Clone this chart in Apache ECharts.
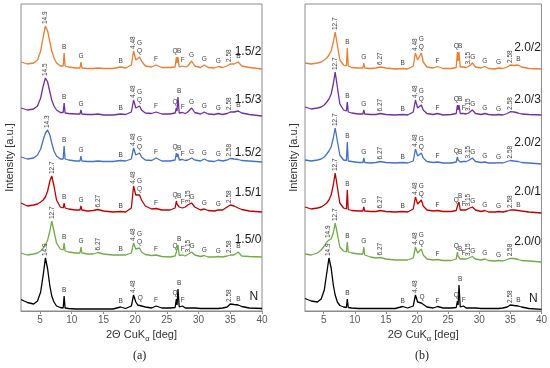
<!DOCTYPE html>
<html><head><meta charset="utf-8">
<script src="https://cdn.jsdelivr.net/npm/echarts@6/dist/echarts.min.js"></script>
<style>html,body{margin:0;padding:0;background:#fff}#c{width:550px;height:368px}</style>
</head><body><div id="c"></div>
<script>
// 2-theta grid (deg)
const twoTheta = [2, 3, 4, 4.6, 5.1, 5.5, 5.85, 6.2, 6.55, 6.85,
  7.2, 7.6, 8.2, 8.65, 8.8, 8.95, 9.5, 10.6, 11.3, 11.45,
  11.6, 12.5, 13.4, 14.1, 15, 16.5, 17.7, 18.5, 19.4, 19.75,
  20.1, 20.4, 20.7, 21.0, 21.6, 22.6, 23.3, 24.2, 25.5, 26.3,
  26.5, 26.6, 26.75, 26.95, 27.45, 27.9, 28.3, 28.9, 29.4, 30.3,
  30.9, 31.5, 32.5, 33.1, 33.8, 34.5, 35.0, 35.6, 36.25, 36.8,
  38, 40];
const xTicks = [5, 10, 15, 20, 25, 30, 35, 40];

// Panel (a): 1.5/2, 1.5/3, 1.5/2, 1.5/1, 1.5/0, N
const namesA = ['1.5/2', '1.5/3', '1.5/2', '1.5/1', '1.5/0', 'N'];
const offsetsA = [242, 196, 149, 98, 54, 0];
const orangeA = [7,5,6,9,18,32,43,38,27,18, 11,6,3,3,16,3,2,1,1,7, 1,0.5,0.5,1,0.5,0.5,2,1,4,18, 9,9,12,8,3,2,4,1.5,1.5,2, 12,6,12,2,3,2,3,8,3,1.5, 4,1.5,1,2.5,1.5,3,5,5,7,3, 1.5,0];
const purpleA = [7,5,6,9,17,29,37,33,23,15, 9,5,2.5,2.5,12,2,1.5,1,1,5, 1,0.5,0.5,1,0,0,1,0.5,3,15, 7,6,9,5,2,1.5,3,1,1,2, 7,4,18,2,2.5,1.5,3,7,2.5,1, 3,1,0.5,1.5,0.5,1.5,3,3,4,2, 0.5,-1];
const blueA = [5,3,4,7,13,22,29,32,27,19, 11,6,3,3,16,3,2,1,1,6, 1,0.5,0.5,1,0.5,0.5,1.5,1,3,14, 7,6,9,5,2,1.5,4,1,1,2, 9,5,8,2,2.5,1.5,2,4,2,1, 3,1,0.5,2,1,2,3.5,3,2.5,1.5, 1,0];
const redA = [10,7,8,9,11,13,16,22,32,37, 27,13,6,5,10,5,4,3,3,7, 3,2,2.5,3.5,2,1,1.5,1,5,27, 18,16,18,13,7,4,4.5,3,3,5, 12,9,11,6,5,6,8,10,6,3, 4,2.5,2,3,3,6,8,7,5,3.5, 2,1];
const greenA = [4,2,3,4,6,9,12,17,26,36, 26,14,8,7,14,6,5,4,4,10, 4,3,3,4.5,3,2,2,2,4,14, 8,7,9,5,2.5,1.5,2,0.5,0,1, 5,3,12,1.5,2,1,2.5,5,2,0.5, 1.5,0,0,0.5,0,1,2,2,5,1, 0.5,0];
const blackA = [11.5,8.5,7,10,19,36,53,42,25,15, 9,5,3.5,3,15,3,2.5,2,2,2, 2,2,2,2,2,2,4,2.5,5,16, 9,6,7,5,4,3,5,3,3,3.5, 12,6,22,4,5,3,3,3,3,2.5, 2.5,2.5,2.5,2.5,3,4,7,6.5,6,4.5, 3,2.5];

// Panel (b): 2.0/2, 2.0/3, 2.0/2, 2.0/1, 2.0/0, N
const namesB = ['2.0/2', '2.0/3', '2.0/2', '2.0/1', '2.0/0', 'N'];
const offsetsB = [242, 196, 148, 99, 50, 0];
const orangeB = [6,5,6,7,9,11,14,18,27,37, 24,9,4,3,21,3,1.5,1,1,6, 1,0.5,1,2,1,0,0.5,0,3,16, 9,7,16,7,2,1,2.5,0.5,0.5,1.5, 17,8,17,2,2,1.5,2.5,6,2,1, 2.5,0.5,0,1,0.5,2,4,3.5,4,2, 0.5,0];
const purpleB = [8,6,7,8,10,13,16,21,31,43, 28,11,5,4,13,3,2,1,1,5, 1,0.5,0.5,1.5,0.5,0,0.5,0,3,15, 7,6,10,5,1.5,0.5,1.5,0,0.5,1.5, 10,5,10,1.5,1.5,1,2,5,1.5,0.5, 1.5,0.5,0,0.5,0,1.5,3.3,3,2,1, 0.5,0];
const blueB = [3,2,3,4,6,9,12,16,25,35, 22,8,3,2.5,21,2,1.5,0.5,0.5,5, 0.5,0,0.5,1.5,0.5,0,0.5,0,2,14, 7,5,10,5,1.5,0.5,1,0,0,1, 6,3,5,1,1.5,1.5,2.5,5,1.5,0.5, 1,0,0,0.3,0,1.5,2.5,2,1.5,0.5, 0,-1];
const redB = [5,3,4,5,7,9,12,17,27,39, 25,9,4,3,22,2.5,1.5,1,1,5, 1,0.5,0.5,1.5,0.5,0,0.5,0,3,15, 8,6,12,6,2,1,1.5,0.5,0.5,1.5, 6,4,10,2,2,2,3.5,5,2,0.5, 1.5,0,0,0.5,0,1,2,2,1.5,1, 0,-1];
const greenB = [7,6,8,11,15,19,21,22,28,38, 27,14,10,9,19,9,8,7,7,14, 6,4,3,3.5,2,1,1,1,3,14, 8,7,12,6,2,1,1.5,0.5,0.5,2, 9,5,6,2,2,2,3,4.5,2,1, 2,0.5,0,0.5,0,1.5,2.7,2.5,1.5,0.5, 0,-1];
const blackB = [12.5,10,9,12,21,38,53,43,26,16, 9,5.5,4,3.5,12,3.5,3,2.5,2.5,2.5, 2.5,2.5,2.5,2.5,2.5,2.5,4.5,3,5,16, 9,7,8,6,4,3,4.5,3,3,3.5, 10,6,26,4,5,3,3,3,3,2.5, 2.5,2.5,2.5,2.5,3,4,6,5.5,5,4, 2.5,1.7];

// Peak annotations: [2theta, text, stack level]
const peaksA = [
  [[5.8,'14.9'],[8.8,'B'],[11.45,'G'],[17.7,'B'],[19.7,'4.48'],[20.7,'Q'],[20.7,'G',1],[23.3,'F'],[26.3,'Q'],[26.95,'B'],[27.5,'F'],[28.9,'G'],[30.9,'G'],[33.1,'G'],[34.9,'2.58'],[36.3,'B']],
  [[5.8,'14.5'],[8.8,'B'],[11.45,'G'],[17.7,'B'],[19.7,'4.48'],[20.7,'Q'],[20.7,'G',1],[23.3,'F'],[26.3,'Q'],[26.95,'B'],[27.5,'F'],[28.9,'G'],[30.9,'G'],[33.1,'G'],[34.9,'2.58'],[36.3,'B']],
  [[6.2,'14.3'],[8.8,'B'],[11.45,'G'],[17.7,'B'],[19.7,'4.48'],[20.7,'Q'],[20.7,'G',1],[23.3,'F'],[26.3,'Q'],[26.95,'B'],[27.5,'F'],[28.9,'G'],[30.9,'G'],[33.1,'G'],[34.9,'2.58']],
  [[6.85,'12.7'],[8.8,'B'],[11.45,'G'],[14.1,'6.27'],[17.7,'B'],[19.7,'4.48'],[20.7,'Q'],[20.7,'G',1],[23.3,'F'],[26.3,'Q'],[26.95,'B'],[27.5,'F'],[28.3,'3.15'],[28.95,'G'],[30.9,'G'],[33.1,'G'],[34.9,'2.58']],
  [[6.85,'12.7'],[8.8,'B'],[11.45,'G'],[14.1,'6.27'],[17.7,'B'],[19.7,'4.48'],[20.7,'Q'],[20.7,'G',1],[23.3,'F'],[26.3,'Q'],[26.95,'B'],[27.5,'F'],[28.3,'3.15'],[28.95,'G'],[30.9,'G'],[33.1,'G'],[34.9,'2.58'],[36.3,'B']],
  [[5.8,'14.9'],[8.8,'B'],[17.7,'B'],[19.7,'4.48'],[20.8,'Q'],[23.3,'F'],[26.3,'Q'],[26.95,'B'],[27.5,'F'],[34.9,'2.58'],[36.3,'B']]
];
const peaksB = [
  [[6.85,'12.7'],[8.8,'B'],[11.45,'G'],[14.1,'6.27'],[17.7,'B'],[19.7,'4.48'],[20.7,'Q'],[20.7,'G',1],[23.3,'F'],[26.3,'Q'],[26.95,'B'],[28.3,'3.15'],[28.95,'G'],[30.9,'G'],[33.1,'G'],[34.9,'2.58'],[36.3,'B']],
  [[6.85,'12.7'],[8.8,'B'],[11.45,'G'],[14.1,'6.27'],[17.7,'B'],[19.7,'4.48'],[20.7,'Q'],[20.7,'G',1],[23.3,'F'],[26.3,'Q'],[26.95,'B'],[27.5,'F'],[28.3,'3.15'],[28.95,'G'],[30.9,'G'],[33.1,'G'],[34.9,'2.58']],
  [[6.85,'12.7'],[8.8,'B'],[11.45,'G'],[14.1,'6.27'],[17.7,'B'],[19.7,'4.48'],[20.7,'Q'],[20.7,'G',1],[23.3,'F'],[26.3,'Q'],[26.95,'B'],[28.3,'3.15'],[28.95,'G'],[30.9,'G'],[33.1,'G'],[34.9,'2.58']],
  [[6.85,'12.7'],[8.8,'B'],[11.45,'G'],[14.1,'6.27'],[17.7,'B'],[19.7,'4.48'],[20.7,'Q'],[20.7,'G',1],[23.3,'F'],[26.3,'Q'],[26.95,'B'],[27.5,'F'],[28.3,'3.15'],[28.95,'G'],[30.9,'G'],[33.1,'G'],[34.9,'2.58'],[36.3,'B']],
  [[5.8,'14.9'],[6.85,'12.7'],[8.8,'B'],[11.45,'G'],[14.1,'6.27'],[19.7,'4.48'],[20.7,'Q'],[20.7,'G',1],[23.3,'F'],[26.3,'Q'],[26.95,'B'],[27.5,'F'],[28.3,'3.15'],[28.95,'G'],[30.9,'G'],[33.1,'G'],[34.9,'2.58']],
  [[5.8,'14.9'],[8.8,'B'],[17.7,'B'],[19.7,'4.48'],[20.8,'Q'],[23.3,'F'],[26.3,'Q'],[26.95,'B'],[27.5,'F'],[34.9,'2.58'],[36.3,'B']]
];

// layout / style
const nameLevelA = [259, 211, 158, 118, 71, 14];
const nameLevelB = [263, 211, 168, 119, 69, 12];
const colors = ['#ED7D31', '#7030A0', '#4472C4', '#C00000', '#70AD47', '#000000'];
const FONT = 'Liberation Sans, Arial, sans-serif';
const AXIS = '#8c8c8c';

function peakTop(vals, off, x) {
  let m = -Infinity;
  twoTheta.forEach((t, i) => { if (Math.abs(t - x) <= 0.3) m = Math.max(m, off + vals[i]); });
  return m;
}

function buildPanel(p, traces, offsets, peaks, names, nameLevels, nameX) {
  const series = [];
  const anns = [];
  traces.forEach((vals, k) => {
    series.push({
      type: 'line', xAxisIndex: p, yAxisIndex: p, silent: true, animation: false,
      data: twoTheta.map((x, i) => [x, offsets[k] + vals[i]]),
      showSymbol: false, symbol: 'none', z: 2,
      lineStyle: { width: 1.3, color: colors[k] }, itemStyle: { color: colors[k] }
    });
    peaks[k].forEach(a => {
      anns.push({ x: a[0], y: peakTop(vals, offsets[k], a[0]) + 2 + (a[2] || 0) * 8, t: a[1], rot: /\d/.test(a[1]), small: true });
    });
    anns.push({ x: names[k] === 'N' ? nameX - 0.5 : nameX, y: nameLevels[k], t: names[k], rot: false, small: false });
  });
  series.push({
    type: 'custom', xAxisIndex: p, yAxisIndex: p, silent: true, animation: false, z: 5, clip: false,
    data: anns.map(a => [a.x, a.y]),
    renderItem: function (params, api) {
      const a = anns[params.dataIndex];
      const pt = api.coord([a.x, a.y]);
      if (!a.small) {
        return { type: 'text', x: pt[0], y: pt[1], style: { text: a.t, fill: '#1a1a1a', font: '12px ' + FONT, align: 'right', verticalAlign: 'middle' } };
      }
      return {
        type: 'text', x: pt[0], y: pt[1], rotation: a.rot ? Math.PI / 2 : 0,
        style: { text: a.t, fill: '#404040', font: '6.5px ' + FONT, align: a.rot ? 'left' : 'center', verticalAlign: a.rot ? 'middle' : 'bottom' }
      };
    }
  });
  return series;
}

function xAxisCfg(g) {
  return {
    gridIndex: g, type: 'value', min: 2, max: 40,
    axisLine: { show: true, lineStyle: { color: AXIS, width: 1 } },
    axisTick: { show: true, length: 3, inside: false, customValues: xTicks, lineStyle: { color: AXIS } },
    axisLabel: { show: true, customValues: xTicks, color: '#595959', fontSize: 10, fontFamily: FONT, margin: 4 },
    splitLine: { show: false },
    name: '{n|2Θ CuK}{s|α}{n| [deg]}', nameLocation: 'middle', nameGap: 14,
    nameTextStyle: {
      color: '#333', fontFamily: FONT,
      rich: { n: { fontSize: 11, verticalAlign: 'bottom', padding: [0, 0, 2, 0], fontFamily: FONT, color: '#333' },
              s: { fontSize: 7.5, verticalAlign: 'bottom', fontFamily: FONT, color: '#333' } }
    }
  };
}
function yAxisCfg(g) {
  return {
    gridIndex: g, type: 'value', min: 0, max: 307,
    axisLine: { show: false }, axisTick: { show: false }, axisLabel: { show: false }, splitLine: { show: false },
    name: 'Intensity [a.u.]', nameLocation: 'middle', nameRotate: 90, nameGap: 6,
    nameTextStyle: { fontSize: 11, color: '#333', fontFamily: FONT }
  };
}

const chart = echarts.init(document.getElementById('c'), null, { renderer: 'canvas' });
chart.setOption({
  animation: false,
  backgroundColor: '#fff',
  grid: [
    { left: 21, right: 288, top: 4, bottom: 57, show: true, borderColor: AXIS, borderWidth: 1, backgroundColor: 'transparent' },
    { left: 305, right: 7, top: 4, bottom: 57, show: true, borderColor: AXIS, borderWidth: 1, backgroundColor: 'transparent' }
  ],
  xAxis: [xAxisCfg(0), xAxisCfg(1)],
  yAxis: [yAxisCfg(0), yAxisCfg(1)],
  graphic: [
    { type: 'text', left: 133, top: 350, style: { text: '(a)', font: '12px Liberation Serif, DejaVu Serif, serif', fill: '#222' } },
    { type: 'text', left: 415, top: 350, style: { text: '(b)', font: '12px Liberation Serif, DejaVu Serif, serif', fill: '#222' } }
  ],
  series: [
    ...buildPanel(0, [orangeA, purpleA, blueA, redA, greenA, blackA], offsetsA, peaksA, namesA, nameLevelA, 39.9),
    ...buildPanel(1, [orangeB, purpleB, blueB, redB, greenB, blackB], offsetsB, peaksB, namesB, nameLevelB, 39.9)
  ]
});
</script>
</body></html>
